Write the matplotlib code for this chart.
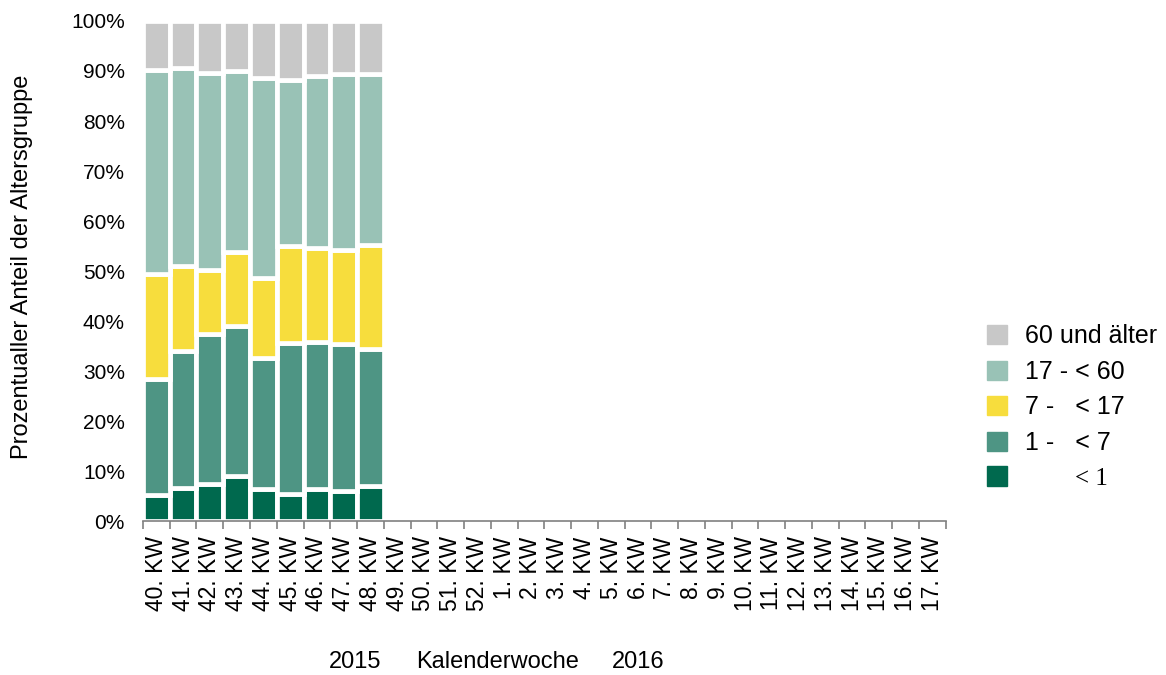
import numpy as np
import matplotlib
matplotlib.use("Agg")
import matplotlib.pyplot as plt

plt.rcParams['font.family'] = ['Liberation Sans', 'DejaVu Sans']

weeks = ["40. KW", "41. KW", "42. KW", "43. KW", "44. KW", "45. KW", "46. KW",
         "47. KW", "48. KW", "49. KW", "50. KW", "51. KW", "52. KW",
         "1. KW", "2. KW", "3. KW", "4. KW", "5. KW", "6. KW", "7. KW", "8. KW",
         "9. KW", "10. KW", "11. KW", "12. KW", "13. KW", "14. KW", "15. KW",
         "16. KW", "17. KW"]

# shares in percent for the weeks with data (40.-48. KW)
under1 = [5.3, 6.6, 7.5, 9.1, 6.4, 5.4, 6.5, 6.1, 7.0]
age1_7 = [23.1, 27.5, 30.0, 29.9, 26.3, 30.3, 29.4, 29.3, 27.5]
age7_17 = [21.0, 17.0, 12.7, 14.8, 16.0, 19.3, 18.8, 18.8, 20.8]
age17_60 = [40.8, 39.5, 39.3, 36.2, 39.9, 33.2, 34.2, 35.2, 34.1]
age60plus = [9.8, 9.4, 10.5, 10.0, 11.4, 11.8, 11.1, 10.6, 10.6]

series = [under1, age1_7, age7_17, age17_60, age60plus]
labels = ["        < 1", "1 -   < 7", "7 -   < 17", "17 - < 60", "60 und älter"]
colors = ["#00694e", "#4e9584", "#f7dd3d", "#99c2b6", "#c8c8c8"]

fig = plt.figure(figsize=(11.66, 6.75), dpi=100)
ax = fig.add_axes([0.1226, 0.2281, 0.6885, 0.7408])

x = np.arange(len(under1))
bottom = np.zeros(len(under1))
for vals, lab, col in zip(series, labels, colors):
    ax.bar(x, vals, bottom=bottom, width=1.0, color=col,
           edgecolor="white", linewidth=3.4, label=lab)
    bottom += np.array(vals)

ax.set_xlim(-0.5, len(weeks) - 0.5)
ax.set_ylim(0, 100)
ax.set_yticks(np.arange(0, 101, 10))
ax.set_yticklabels([f"{v}%" for v in range(0, 101, 10)], fontsize=15)
ax.set_xticks(np.arange(len(weeks)))
ax.set_xticklabels(weeks, rotation=90, fontsize=16.5)
ax.set_xticks(np.arange(len(weeks) + 1) - 0.5, minor=True)
ax.tick_params(axis="x", which="major", length=0, pad=11)
ax.tick_params(axis="x", which="minor", length=6, color="#808080", width=1.2)
ax.tick_params(axis="y", length=0, pad=13)

for s in ["top", "right", "left"]:
    ax.spines[s].set_visible(False)
ax.spines["bottom"].set_color("#808080")
ax.spines["bottom"].set_linewidth(1.2)

fig.text(22 / 1166, 0.604, "Prozentualler Anteil der Altersgruppe",
         fontsize=17, rotation=90, ha="center", va="center")

fig.text(355 / 1166, 0.019, "2015", fontsize=17, ha="center", va="center")
fig.text(498 / 1166, 0.019, "Kalenderwoche", fontsize=17, ha="center", va="center")
fig.text(638 / 1166, 0.019, "2016", fontsize=17, ha="center", va="center")

leg_handles = [plt.Rectangle((0, 0), 1, 1, color=c) for c in colors[::-1]]
leg = fig.legend(leg_handles, labels[::-1], loc="center left",
                 bbox_to_anchor=(987 / 1166, 0.397), frameon=False, fontsize=18,
                 borderpad=0, borderaxespad=0,
                 handlelength=0.8, handleheight=0.8, handletextpad=0.72,
                 labelspacing=0.46)
leg.get_texts()[-1].set_fontfamily("Liberation Serif")

fig.savefig("out.png", dpi=100)
